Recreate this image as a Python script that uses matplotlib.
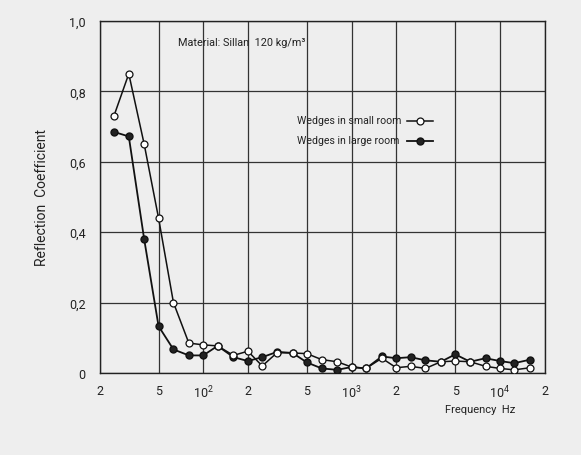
import matplotlib
matplotlib.use("Agg")
import matplotlib.pyplot as plt
from matplotlib.ticker import FixedLocator, FixedFormatter, NullLocator

plt.rcParams['font.family'] = ['Roboto', 'DejaVu Sans']
plt.rcParams['mathtext.fontset'] = 'custom'
plt.rcParams['mathtext.rm'] = 'Roboto'

freqs = [25, 31.5, 40, 50, 63, 80, 100, 125, 160, 200, 250, 315, 400, 500, 630,
         800, 1000, 1250, 1600, 2000, 2500, 3150, 4000, 5000, 6300, 8000, 10000,
         12500, 16000]

small_room = [0.73, 0.85, 0.65, 0.44, 0.20, 0.085, 0.08, 0.077, 0.05, 0.062,
              0.02, 0.058, 0.057, 0.055, 0.038, 0.032, 0.017, 0.013, 0.042,
              0.015, 0.019, 0.013, 0.032, 0.034, 0.032, 0.019, 0.013, 0.009,
              0.015]

large_room = [0.685, 0.672, 0.38, 0.133, 0.067, 0.05, 0.05, 0.077, 0.045,
              0.034, 0.045, 0.06, 0.057, 0.03, 0.013, 0.009, 0.017, 0.013,
              0.047, 0.042, 0.045, 0.036, 0.032, 0.053, 0.032, 0.042, 0.034,
              0.028, 0.038]

x_ticks = [20, 50, 100, 200, 500, 1000, 2000, 5000, 10000, 20000]
x_tick_labels = ['2', '5', r'$\mathregular{10^2}$', '2', '5', r'$\mathregular{10^3}$',
                 '2', '5', r'$\mathregular{10^4}$', '2']
y_ticks = [0, 0.2, 0.4, 0.6, 0.8, 1.0]
y_tick_labels = ['0', '0,2', '0,4', '0,6', '0,8', '1,0']

bg = '#eeeeee'
ink = '#222222'
fig = plt.figure(figsize=(5.81, 4.56), dpi=100, facecolor=bg)
ax = fig.add_axes([0.1713, 0.1798, 0.766, 0.772], facecolor=bg)

ax.set_xscale('log')
ax.set_xlim(20, 20000)
ax.set_ylim(0, 1.0)

ax.xaxis.set_major_locator(FixedLocator(x_ticks))
ax.xaxis.set_major_formatter(FixedFormatter(x_tick_labels))
ax.xaxis.set_minor_locator(NullLocator())
ax.yaxis.set_major_locator(FixedLocator(y_ticks))
ax.yaxis.set_major_formatter(FixedFormatter(y_tick_labels))

ax.tick_params(axis='both', length=0, labelsize=9, colors=ink)
ax.tick_params(axis='x', pad=8)
ax.tick_params(axis='y', pad=10)

ax.grid(True, which='major', color='#333333', linewidth=0.9)
for s in ax.spines.values():
    s.set_color(ink)
    s.set_linewidth(1.0)

ax.plot(freqs, large_room, '-o', color='#111111', lw=1.3, ms=5,
        mfc=ink, mec='#111111', zorder=3)
ax.plot(freqs, small_room, '-o', color='#111111', lw=1.1, ms=5,
        mfc='white', mec='#111111', mew=0.9, zorder=4)

ax.set_ylabel('Reflection  Coefficient', fontsize=10, color=ink, labelpad=14)

fig.text(480 / 581, 1 - 410 / 456, 'Frequency  Hz', fontsize=8,
         ha='center', va='center', color=ink)
fig.text(242 / 581, 1 - 43 / 456, 'Material: Sillan  120 kg/m\u00b3', fontsize=7.8,
         ha='center', va='center', color=ink)

# legend entries
fig.text(297 / 581, 1 - 121.5 / 456, 'Wedges in small room', fontsize=7.6,
         ha='left', va='center', color=ink)
fig.text(297 / 581, 1 - 141.5 / 456, 'Wedges in large room', fontsize=7.6,
         ha='left', va='center', color=ink)
lx = [407 / 581, 433 / 581]
fig.add_artist(plt.Line2D(lx, [1 - 121.5 / 456] * 2, color='#111111', lw=1.1))
fig.add_artist(plt.Line2D([420 / 581], [1 - 121.5 / 456], marker='o', ms=5,
                          mfc='white', mec='#111111', mew=0.9, color='#111111'))
fig.add_artist(plt.Line2D(lx, [1 - 141.5 / 456] * 2, color='#111111', lw=1.3))
fig.add_artist(plt.Line2D([420 / 581], [1 - 141.5 / 456], marker='o', ms=5,
                          mfc=ink, mec='#111111', color='#111111'))

fig.savefig('out.png', dpi=100, facecolor=bg)
